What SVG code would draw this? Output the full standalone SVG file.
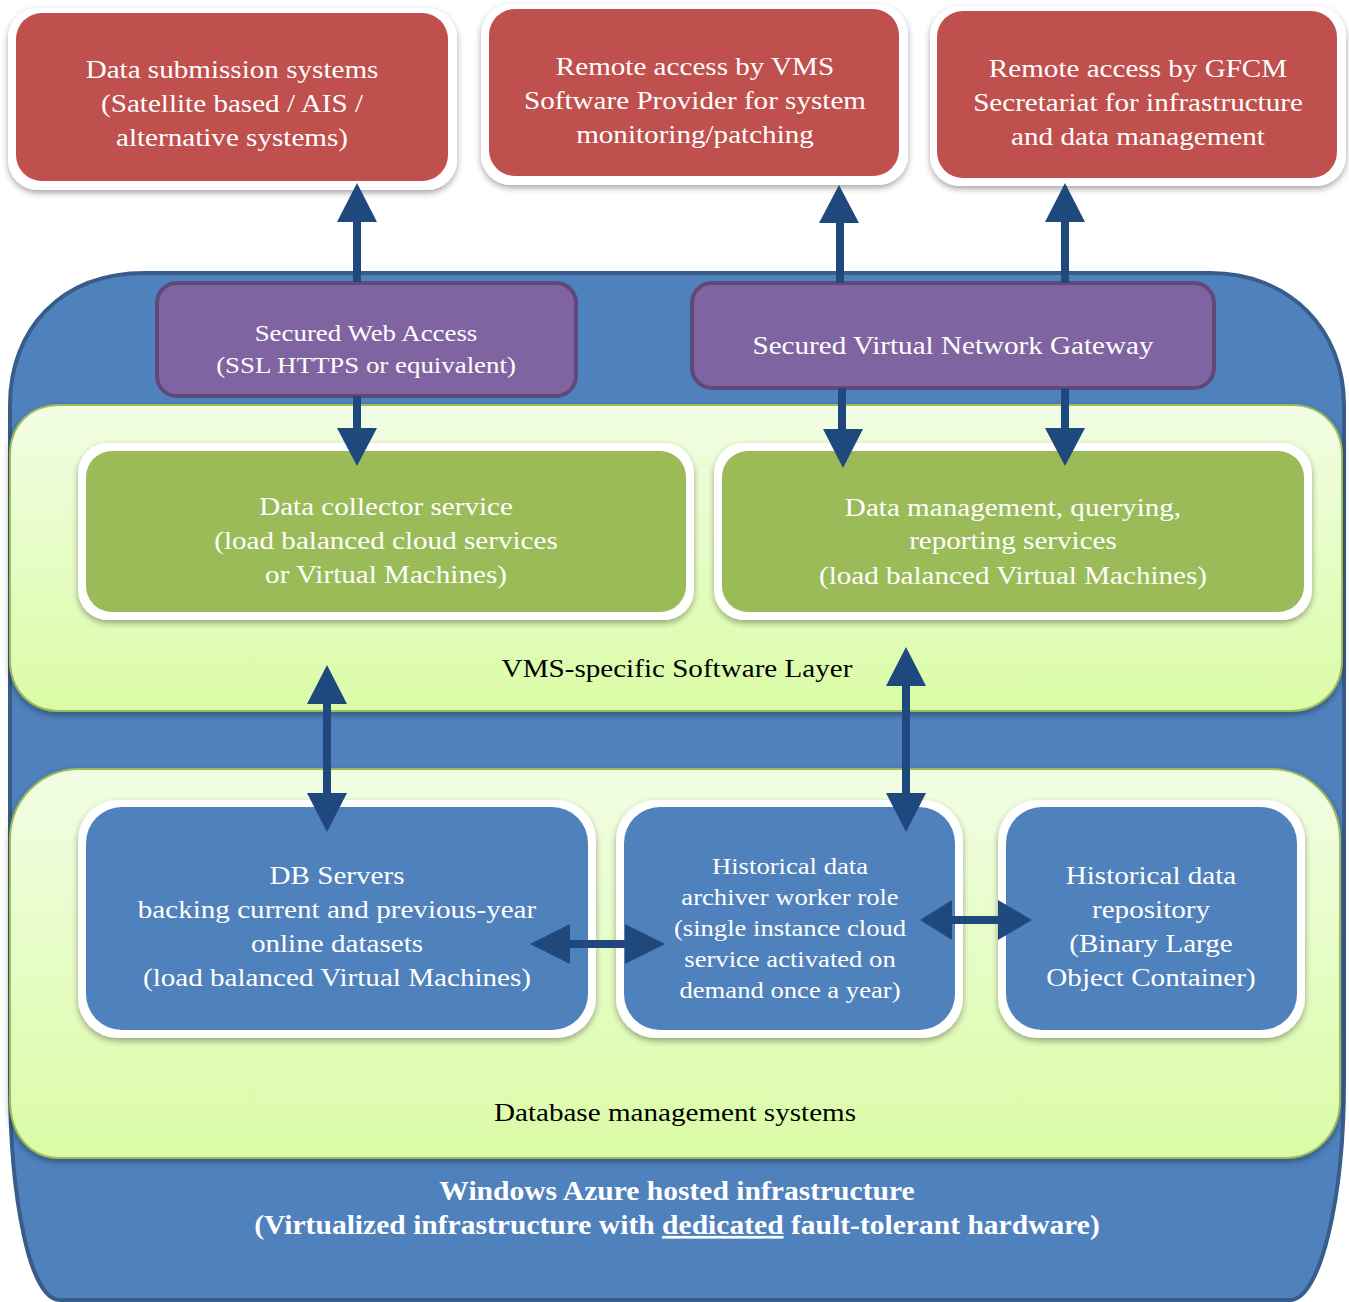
<svg xmlns="http://www.w3.org/2000/svg" width="1349" height="1302" viewBox="0 0 1349 1302">
<style>
text{font-family:"Liberation Serif","Times New Roman",serif;text-anchor:middle}
.w{fill:#ffffff;font-size:26px}
.ws{fill:#ffffff;font-size:24px}
.k{fill:#000000;font-size:26px}
.b{fill:#ffffff;font-size:27px;font-weight:bold}
.frame{fill:#ffffff;filter:url(#sh)}
.red{fill:#c0504d}
.grn{fill:#9bbb59}
.blu{fill:#4f81bd}
.pur{fill:#8064a2;stroke:#5f497a;stroke-width:4}
.layer{fill:url(#lg);stroke:#9bbb59;stroke-width:2;filter:url(#sh)}
.sh{stroke:#1f497d;stroke-width:8;fill:none}
.hd{fill:#1f497d}
</style>
<defs>
<filter id="sh" x="-5%" y="-5%" width="110%" height="115%">
<feDropShadow dx="0" dy="3" stdDeviation="3" flood-color="#000" flood-opacity="0.35"/>
</filter>
<linearGradient id="lg" x1="0" y1="0" x2="0" y2="1">
<stop offset="0" stop-color="#f2fde4"/>
<stop offset="1" stop-color="#dafca6"/>
</linearGradient>
</defs>

<g id="azure">
<path d="M10,405 C10,330 60,273 145,273 L1210,273 C1290,273 1344,330 1344,405 L1344,1080 C1344,1200 1320,1300 1290,1300 L60,1300 C30,1300 10,1200 10,1080 Z" fill="#4f81bd" stroke="#385d8a" stroke-width="4"/>
<text class="b" x="0" y="1200" transform="translate(677 0) scale(1.095 1)">Windows Azure hosted infrastructure</text>
<text class="b" x="0" y="1234" transform="translate(677 0) scale(1.095 1)">(Virtualized infrastructure with <tspan text-decoration="underline">dedicated</tspan> fault-tolerant hardware)</text>
</g>

<g id="vms-layer">
<path class="layer" d="M60,405 L1292,405 C1320,405 1342,425 1342,455 L1342,660 C1342,690 1320,711 1290,711 L60,711 C30,711 10,690 10,660 L10,455 C10,425 30,405 60,405 Z"/>
<text class="k" x="0" y="677" transform="translate(677 0) scale(1.12 1)">VMS-specific Software Layer</text>
</g>

<g id="db-layer">
<path class="layer" d="M80,769 L1270,769 C1310,769 1340,800 1340,840 L1340,1100 C1340,1135 1315,1158 1285,1158 L60,1158 C30,1158 10,1135 10,1100 L10,840 C10,800 40,769 80,769 Z"/>
<text class="k" x="0" y="1121" transform="translate(675 0) scale(1.12 1)">Database management systems</text>
</g>

<g id="data-submission">
<rect class="frame" x="8" y="8" width="449" height="182" rx="30"/>
<rect class="red" x="16" y="13" width="432" height="168" rx="26"/>
<g transform="translate(232 0) scale(1.12 1)">
<text class="w" x="0" y="78">Data submission systems</text>
<text class="w" x="0" y="112">(Satellite based / AIS /</text>
<text class="w" x="0" y="146">alternative systems)</text>
</g>
</g>

<g id="remote-vms">
<rect class="frame" x="481" y="4" width="427" height="181" rx="30"/>
<rect class="red" x="489" y="9" width="410" height="167" rx="26"/>
<g transform="translate(695 0) scale(1.12 1)">
<text class="w" x="0" y="75">Remote access by VMS</text>
<text class="w" x="0" y="109">Software Provider for system</text>
<text class="w" x="0" y="143">monitoring/patching</text>
</g>
</g>

<g id="remote-gfcm">
<rect class="frame" x="930" y="6" width="416" height="180" rx="30"/>
<rect class="red" x="937" y="11" width="400" height="167" rx="26"/>
<g transform="translate(1138 0) scale(1.12 1)">
<text class="w" x="0" y="77">Remote access by GFCM</text>
<text class="w" x="0" y="111">Secretariat for infrastructure</text>
<text class="w" x="0" y="145">and data management</text>
</g>
</g>

<g id="secured-web">
<rect class="pur" x="157" y="283" width="419" height="113" rx="20"/>
<g transform="translate(366 0) scale(1.12 1)">
<text class="ws" x="0" y="341">Secured Web Access</text>
<text class="ws" x="0" y="373">(SSL HTTPS or equivalent)</text>
</g>
</g>

<g id="gateway">
<rect class="pur" x="692" y="283" width="522" height="105" rx="20"/>
<text class="w" x="0" y="354" transform="translate(953 0) scale(1.12 1)">Secured Virtual Network Gateway</text>
</g>

<g id="data-collector">
<rect class="frame" x="78" y="443" width="616" height="177" rx="30"/>
<rect class="grn" x="86" y="451" width="600" height="161" rx="26"/>
<g transform="translate(386 0) scale(1.12 1)">
<text class="w" x="0" y="515">Data collector service</text>
<text class="w" x="0" y="549">(load balanced cloud services</text>
<text class="w" x="0" y="583">or Virtual Machines)</text>
</g>
</g>

<g id="data-management">
<rect class="frame" x="714" y="443" width="598" height="177" rx="30"/>
<rect class="grn" x="722" y="451" width="582" height="161" rx="26"/>
<g transform="translate(1013 0) scale(1.12 1)">
<text class="w" x="0" y="516">Data management, querying,</text>
<text class="w" x="0" y="549">reporting services</text>
<text class="w" x="0" y="584">(load balanced Virtual Machines)</text>
</g>
</g>

<g id="db-servers">
<rect class="frame" x="78" y="800" width="518" height="238" rx="40"/>
<rect class="blu" x="86" y="807" width="502" height="223" rx="36"/>
<g transform="translate(337 0) scale(1.12 1)">
<text class="w" x="0" y="884">DB Servers</text>
<text class="w" x="0" y="918">backing current and previous-year</text>
<text class="w" x="0" y="952">online datasets</text>
<text class="w" x="0" y="986">(load balanced Virtual Machines)</text>
</g>
</g>

<g id="archiver">
<rect class="frame" x="616" y="800" width="347" height="238" rx="40"/>
<rect class="blu" x="624" y="807" width="331" height="223" rx="36"/>
<g transform="translate(790 0) scale(1.11 1)">
<text class="ws" x="0" y="874">Historical data</text>
<text class="ws" x="0" y="905">archiver worker role</text>
<text class="ws" x="0" y="936">(single instance cloud</text>
<text class="ws" x="0" y="967">service activated on</text>
<text class="ws" x="0" y="998">demand once a year)</text>
</g>
</g>

<g id="repository">
<rect class="frame" x="998" y="800" width="307" height="238" rx="40"/>
<rect class="blu" x="1006" y="807" width="291" height="223" rx="36"/>
<g transform="translate(1151 0) scale(1.12 1)">
<text class="w" x="0" y="884">Historical data</text>
<text class="w" x="0" y="918">repository</text>
<text class="w" x="0" y="952">(Binary Large</text>
<text class="w" x="0" y="986">Object Container)</text>
</g>
</g>

<g id="connectors">
<line class="sh" x1="357" y1="282" x2="357" y2="215"/>
<polygon class="hd" points="357,183 377,222 337,222"/>
<line class="sh" x1="357" y1="396" x2="357" y2="432"/>
<polygon class="hd" points="357,466 337,428 377,428"/>

<line class="sh" x1="840" y1="283" x2="840" y2="215"/>
<polygon class="hd" points="839,185 859,223 819,223"/>
<line class="sh" x1="842" y1="388" x2="842" y2="432"/>
<polygon class="hd" points="843,468 823,429 863,429"/>

<line class="sh" x1="1065" y1="283" x2="1065" y2="215"/>
<polygon class="hd" points="1065,183 1085,222 1045,222"/>
<line class="sh" x1="1065" y1="388" x2="1065" y2="432"/>
<polygon class="hd" points="1065,466 1045,428 1085,428"/>

<line class="sh" x1="327" y1="700" x2="327" y2="796"/>
<polygon class="hd" points="327,665 347,704 307,704"/>
<polygon class="hd" points="327,832 307,793 347,793"/>

<line class="sh" x1="906" y1="682" x2="906" y2="796"/>
<polygon class="hd" points="906,647 926,686 886,686"/>
<polygon class="hd" points="906,832 886,793 926,793"/>

<line class="sh" x1="565" y1="944" x2="630" y2="944"/>
<polygon class="hd" points="530,944 570,924 570,964"/>
<polygon class="hd" points="665,944 625,924 625,964"/>

<line class="sh" x1="950" y1="920" x2="1002" y2="920"/>
<polygon class="hd" points="920,920 952,900 952,940"/>
<polygon class="hd" points="1032,920 998,900 998,940"/>
</g>
</svg>
